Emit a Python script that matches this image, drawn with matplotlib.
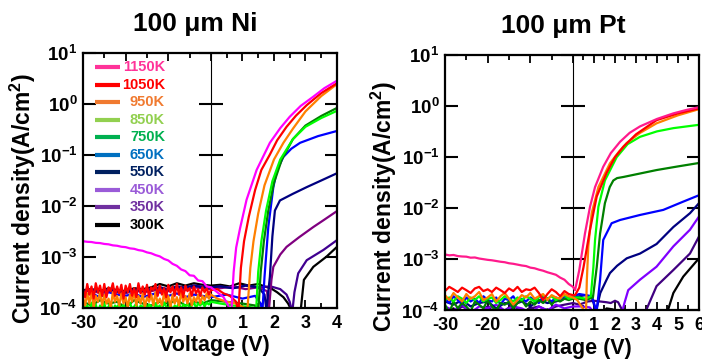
import numpy as np
import matplotlib
matplotlib.use('Agg')
import matplotlib.pyplot as plt
from matplotlib.ticker import FixedLocator, NullLocator

plt.rcParams['font.family'] = 'Liberation Sans'
plt.rcParams['font.weight'] = 'bold'
plt.rcParams['mathtext.fontset'] = 'custom'
plt.rcParams['mathtext.rm'] = 'Liberation Sans:bold'
plt.rcParams['mathtext.it'] = 'Liberation Sans:bold'
plt.rcParams['mathtext.bf'] = 'Liberation Sans:bold'

# ---------------------------------------------------------------------------
# legend / colours
# ---------------------------------------------------------------------------
TEMPS = ['1150K', '1050K', '950K', '850K', '750K', '650K', '550K', '450K', '350K', '300K']
LEG_COLORS = ['#FF3399', '#FF0000', '#F07A30', '#92D050', '#00B050',
              '#0070C0', '#002060', '#9A5BD8', '#7030A0', '#000000']
NI_COLORS = ['#FF00FF', '#FF0000', '#FF8000', '#00FF00', '#008000',
             '#0000FF', '#000080', '#800080', '#400090', '#000000']
PT_COLORS = ['#FF1A8C', '#FF0000', '#FF8000', '#00FF00', '#008000',
             '#0000FF', '#000080', '#8000FF', '#400080', '#000000']

# reverse sweep grids (V)
V_REV_FINE = np.arange(-30, 0.25, 0.5)
V_REV_1 = np.arange(-30, 0.5, 1.0)
V_REV_2 = np.arange(-30, 0.5, 2.0)

Y_TICKS = [1e-4, 1e-3, 1e-2, 1e-1, 1e0, 1e1]
Y_TICKLABELS = [r'$10^{-4}$', r'$10^{-3}$', r'$10^{-2}$', r'$10^{-1}$', r'$10^{0}$', r'$10^{1}$']

# ---------------------------------------------------------------------------
# 100 um Ni  (current density, A/cm^2)
# ---------------------------------------------------------------------------
NI_XTICKS = [-30, -20, -10, 0, 1, 2, 3, 4]
NI_XMINOR = [-25, -15, -5, 0.5, 1.5, 2.5, 3.5]

NI_1150_REV = np.array([2.0, 1.95, 1.93, 1.86, 1.84, 1.77, 1.74, 1.66, 1.63, 1.56, 1.53,
                        1.45, 1.42, 1.34, 1.3, 1.21, 1.16, 1.07, 1.01, 0.9, 0.84,
                        0.72, 0.66, 0.56, 0.52, 0.43, 0.42, 0.34, 0.33, 0.26, 0.25]) * 1e-3
NI_1150_FV = [0.2, 0.4, 0.55, 0.64, 0.72, 0.8, 0.92, 1.13, 1.45, 1.87, 2.2, 2.5, 2.85, 3.24, 3.6, 4.0]
NI_1150_FJ = [2.0e-4, 1.6e-4, 1.1e-4, 7e-5, 5e-4, 1.5e-3, 3.5e-3, 1.3e-2, 5e-2, 0.17,
              0.33, 0.55, 0.9, 1.35, 2.0, 2.8]

NI_1050_REV = np.array([2.3, 1.6, 2.9, 1.8, 2.6, 1.5, 3.0, 2.0, 2.7, 1.7, 2.9, 1.6, 2.5, 2.1, 3.0,
                        1.7, 2.6, 1.9, 2.8, 1.5, 2.7, 2.0, 2.9, 1.7, 2.4, 1.6, 3.0, 1.9, 2.6, 1.8,
                        2.8, 1.6, 2.5, 2.2, 2.9, 1.7, 2.7, 1.8, 2.4, 1.6, 2.8, 2.0, 2.6, 1.7, 2.9,
                        1.8, 2.5, 1.6, 2.7, 2.1, 2.4, 1.7, 2.6, 1.9, 2.3, 1.7, 2.5, 2.0, 2.4, 1.8,
                        2.2]) * 1e-4
NI_1050_FV = [0.2, 0.4, 0.6, 0.8, 0.87, 0.95, 1.05, 1.2, 1.4, 1.6, 1.87, 2.1, 2.4, 2.7, 3.04, 3.5, 4.0]
NI_1050_FJ = [2.3e-4, 1.9e-4, 1.7e-4, 1.3e-4, 8e-5, 6e-4, 2e-3, 6e-3, 2e-2, 5e-2, 0.1,
              0.19, 0.35, 0.58, 0.93, 1.6, 2.5]

NI_950_REV = np.array([1.6, 1.1, 1.9, 1.2, 2.1, 1.0, 1.7, 1.3, 2.0, 1.1, 1.8, 1.2, 1.5, 1.0, 2.0,
                       1.3, 1.7, 1.1, 1.9, 1.2, 1.6, 1.0, 1.8, 1.3, 2.1, 1.1, 1.7, 1.2, 1.9, 1.0,
                       1.6, 1.3, 1.8, 1.1, 2.0, 1.2, 1.5, 1.1, 1.9, 1.3, 1.7, 1.0, 1.8, 1.2, 1.6,
                       1.1, 2.0, 1.3, 1.7, 1.2, 1.9, 1.1, 1.6, 1.3, 1.8, 1.2, 1.7, 1.4, 1.9, 1.5,
                       1.8]) * 1e-4
NI_950_FV = [0.2, 0.5, 0.8, 1.05, 1.15, 1.25, 1.35, 1.5, 1.7, 2.0, 2.3, 2.6, 3.0, 3.5, 4.0]
NI_950_FJ = [1.5e-4, 1.3e-4, 1.2e-4, 1.0e-4, 8e-5, 6e-4, 2e-3, 7e-3, 2.5e-2, 0.08,
             0.17, 0.32, 0.7, 1.4, 2.4]

NI_850_REV = np.array([1.2, 0.95, 1.1, 0.85, 1.25, 1.0, 1.15, 0.8, 1.1, 1.0, 1.2, 0.9, 1.05, 1.25,
                       0.85, 1.1, 1.0, 1.2, 0.9, 1.15, 0.8, 1.1, 1.25, 0.95, 1.05, 1.2, 0.85, 1.1,
                       1.0, 1.25, 0.9, 1.15, 1.05, 0.8, 1.2, 1.0, 1.1, 0.9, 1.25, 1.05, 0.95, 1.2,
                       0.85, 1.1, 1.0, 1.25, 0.9, 1.15, 1.05, 1.2, 0.95, 1.1, 1.25, 1.0, 1.2, 1.1,
                       1.3, 1.05, 1.25, 1.15, 1.3]) * 1e-4
NI_850_FV = [0.3, 0.7, 1.1, 1.35, 1.43, 1.5, 1.6, 1.75, 1.95, 2.2, 2.6, 3.0, 3.5, 4.0]
NI_850_FJ = [1.2e-4, 1.1e-4, 1.05e-4, 1.0e-4, 8e-5, 5e-4, 2e-3, 8e-3, 3e-2, 0.08,
             0.2, 0.35, 0.52, 0.72]

NI_750_REV = np.array([1.3, 1.1, 1.4, 1.2, 1.3, 1.0, 1.4, 1.2, 1.1, 1.3, 1.2, 1.4, 1.1, 1.3, 1.2, 1.4]) * 1e-4
NI_750_FV = [0.5, 1.0, 1.4, 1.5, 1.58, 1.68, 1.82, 2.0, 2.25, 2.6, 3.0, 3.5, 4.0]
NI_750_FJ = [1.3e-4, 1.2e-4, 1.1e-4, 8e-5, 5e-4, 2e-3, 8e-3, 2.8e-2, 0.08, 0.2, 0.37, 0.57, 0.82]

NI_650_REV = np.array([1.7, 1.9, 1.6, 2.0, 1.8, 1.7, 1.9, 1.6, 1.8, 2.0, 1.7, 1.9, 1.6, 1.8, 1.7, 1.6]) * 1e-4
NI_650_FV = [0.5, 1.0, 1.4, 1.58, 1.63, 1.7, 1.82, 1.98, 2.1, 2.3, 2.55, 2.83, 3.4, 4.0]
NI_650_FJ = [1.8e-4, 1.5e-4, 1.7e-4, 1.2e-4, 8e-5, 4e-4, 3.8e-3, 2.3e-2, 5e-2, 9e-2,
             0.13, 0.17, 0.23, 0.29]

NI_550_REV = np.array([2.1, 2.3, 2.0, 2.2, 2.1, 2.0, 2.3, 2.1, 2.2, 2.5, 2.2, 2.6, 2.4, 2.7, 2.5, 2.5]) * 1e-4
NI_550_FV = [0.3, 0.7, 1.1, 1.5, 1.7, 1.76, 1.87, 1.95, 2.03, 2.19, 2.6, 3.04, 3.5, 4.0]
NI_550_FJ = [2.6e-4, 2.4e-4, 2.7e-4, 2.5e-4, 1.8e-4, 9e-5, 4e-4, 2.5e-3, 8e-3, 1.26e-2,
             1.7e-2, 2.3e-2, 3.1e-2, 4.3e-2]

NI_450_REV = np.array([2.0, 2.2, 1.9, 2.1, 2.0, 1.9, 2.2, 2.0, 2.1, 2.3, 2.1, 2.4, 2.2, 2.5, 2.4, 2.3]) * 1e-4
NI_450_FV = [0.3, 0.7, 1.1, 1.5, 1.78, 1.84, 1.92, 1.98, 2.2, 2.4, 2.8, 3.25, 3.6, 4.0]
NI_450_FJ = [2.4e-4, 2.6e-4, 2.3e-4, 2.5e-4, 2.1e-4, 9e-5, 3.5e-4, 6.3e-4, 1.1e-3, 1.55e-3,
             2.4e-3, 3.8e-3, 5.3e-3, 7.8e-3]

NI_350_REV = np.array([2.1, 2.2, 2.0, 2.3, 2.1, 2.0, 2.2, 2.1, 2.3, 2.5, 2.3, 2.6, 2.5, 2.7, 2.6, 2.5]) * 1e-4
NI_350_FV = [0.3, 0.7, 1.1, 1.5, 1.9, 2.2, 2.4, 2.5, 2.58, 2.65, 2.77, 3.04, 3.57, 4.0]
NI_350_FJ = [2.6e-4, 2.4e-4, 2.7e-4, 2.5e-4, 2.6e-4, 2.3e-4, 1.8e-4, 1.3e-4, 8e-5, 2e-4,
             4.7e-4, 8.5e-4, 1.35e-3, 2.1e-3]

NI_300_REV = np.array([2.2, 2.3, 2.1, 2.4, 2.2, 2.1, 2.4, 2.3, 2.5, 2.9, 2.6, 3.0, 2.7, 3.0, 2.8, 2.7]) * 1e-4
NI_300_FV = [0.3, 0.6, 0.9, 1.2, 1.5, 1.7, 1.9, 2.1, 2.3, 2.45, 2.55, 2.85, 2.95, 3.25, 3.67, 4.0]
NI_300_FJ = [2.8e-4, 2.6e-4, 3.0e-4, 2.7e-4, 2.9e-4, 2.6e-4, 2.4e-4, 2.0e-4, 1.6e-4, 1.2e-4,
             9e-5, 9e-5, 3.5e-4, 6.3e-4, 1e-3, 1.55e-3]

# ---------------------------------------------------------------------------
# 100 um Pt
# ---------------------------------------------------------------------------
PT_XTICKS = [-30, -20, -10, 0, 1, 2, 3, 4, 5, 6]
PT_XMINOR = [-25, -15, -5, 0.5, 1.5, 2.5, 3.5, 4.5, 5.5]

PT_1150_REV = np.array([12.5, 12.0, 12.2, 11.6, 11.4, 11.3, 10.8, 10.9, 10.4, 10.1, 9.8, 9.6, 9.3,
                        9.0, 8.8, 8.4, 8.2, 7.9, 7.6, 7.4, 6.9, 6.7, 6.3, 6.0, 5.6, 5.3, 5.0, 4.4,
                        4.0, 3.3, 2.9]) * 1e-4
PT_1150_FV = [0.1, 0.3, 0.57, 0.81, 1.05, 1.44, 1.8, 2.24, 2.7, 3.19, 4.0, 4.78, 5.4, 6.0]
PT_1150_FJ = [2.5e-4, 6.2e-4, 3.2e-3, 1.07e-2, 2.6e-2, 6.5e-2, 0.12, 0.2, 0.3, 0.4,
              0.56, 0.72, 0.84, 0.95]

PT_1050_REV = np.array([2.4, 2.9, 2.6, 2.3, 2.8, 2.5, 2.2, 2.7, 2.9, 2.4, 2.6, 2.3, 2.8, 2.5, 2.2,
                        2.7, 2.4, 2.9, 2.3, 2.6, 2.5, 2.8, 2.2, 1.6, 2.1, 2.6, 2.3, 1.9, 2.4, 2.1,
                        2.0]) * 1e-4
PT_1050_FV = [0.1, 0.3, 0.5, 0.81, 1.13, 1.6, 2.0, 2.4, 3.0, 3.98, 5.0, 6.0]
PT_1050_FJ = [2.0e-4, 2.8e-4, 7e-4, 3.8e-3, 1.7e-2, 4.9e-2, 0.1, 0.16, 0.28, 0.53, 0.72, 0.9]

PT_950_REV = np.array([2.0, 1.6, 2.2, 1.8, 1.5, 2.1, 1.7, 1.9, 2.3, 1.6, 1.8, 2.1, 1.5, 1.9, 2.2,
                       1.7, 1.3, 1.6, 2.0, 1.8, 2.2, 1.7, 1.9, 2.1, 1.6, 2.0, 1.8, 1.7, 2.1, 1.9,
                       1.8]) * 1e-4
PT_950_FV = [0.2, 0.4, 0.62, 0.66, 0.73, 0.89, 1.21, 1.76, 2.2, 2.56, 3.2, 3.98, 5.0, 6.0]
PT_950_FJ = [1.6e-4, 1.2e-4, 9e-5, 4e-4, 1.8e-3, 8e-3, 2.6e-2, 7.6e-2, 0.13, 0.19,
             0.3, 0.46, 0.66, 0.87]

PT_850_REV = np.array([1.6, 1.8, 1.5, 1.9, 1.7, 1.4, 1.8, 1.6, 1.9, 1.5, 1.7, 1.8, 1.4, 1.6, 1.9,
                       1.7, 1.5, 1.8, 1.6, 1.9, 1.7, 1.5, 1.8, 2.0, 1.7, 1.9, 1.6, 1.8, 2.0, 1.7,
                       1.8]) * 1e-4
PT_850_FV = [0.3, 0.6, 0.85, 0.97, 1.05, 1.21, 1.52, 2.08, 2.6, 3.19, 4.0, 4.78, 6.0]
PT_850_FJ = [1.8e-4, 1.7e-4, 1.9e-4, 7e-4, 2.4e-3, 1.07e-2, 3.5e-2, 0.1, 0.18, 0.25,
             0.32, 0.37, 0.43]

PT_750_REV = np.array([1.3, 0.9, 1.5, 1.1, 1.4, 1.2, 0.95, 1.5, 1.3, 1.1, 1.6, 1.2, 1.0, 1.4, 1.3,
                       1.5, 1.1, 1.4, 1.6, 1.2, 1.5, 1.3, 1.6, 1.4, 1.7, 1.3, 1.6, 1.5, 1.7, 1.6,
                       1.7]) * 1e-4
PT_750_FV = [0.3, 0.6, 0.95, 1.13, 1.29, 1.52, 1.75, 1.92, 2.1, 2.4, 3.2, 3.98, 5.0, 6.0]
PT_750_FJ = [1.7e-4, 1.6e-4, 1.8e-4, 7e-4, 3.2e-3, 1.26e-2, 2.6e-2, 3.5e-2, 3.9e-2, 4.1e-2,
             4.8e-2, 5.6e-2, 6.6e-2, 7.7e-2]

PT_650_REV = np.array([1.7, 1.4, 1.9, 1.6, 1.3, 1.8, 1.5, 1.7, 1.4, 1.9, 1.6, 1.5, 1.8, 1.3, 1.7,
                       1.6, 1.9, 1.4, 1.7, 1.5, 1.8, 1.6, 1.4, 1.9, 1.7, 1.5, 1.8, 1.6, 1.9, 1.8,
                       1.9]) * 1e-4
PT_650_FV = [0.3, 0.6, 0.9, 1.05, 1.12, 1.29, 1.44, 1.84, 2.24, 3.19, 4.3, 5.25, 6.0]
PT_650_FJ = [2.1e-4, 2.0e-4, 1.9e-4, 1.2e-4, 9e-5, 4e-4, 2.4e-3, 5.1e-3, 5.9e-3, 7.4e-3,
             9.3e-3, 1.35e-2, 1.8e-2]

PT_550_REV = np.array([1.5, 1.3, 1.6, 1.2, 1.4, 1.5, 1.1, 1.4, 1.3, 1.5, 1.2, 1.6, 1.4, 1.5, 1.7, 1.8]) * 1e-4
PT_550_FV = [0.3, 0.6, 0.9, 1.0, 1.08, 1.3, 1.6, 1.76, 2.1, 2.56, 3.19, 3.98, 4.78, 5.57, 6.0]
PT_550_FJ = [1.9e-4, 2.0e-4, 1.8e-4, 1.3e-4, 9e-5, 2.2e-4, 4e-4, 5.4e-4, 7.5e-4, 1.05e-3,
             1.3e-3, 2e-3, 4.3e-3, 8e-3, 1.26e-2]

PT_450_REV = np.array([1.2, 1.0, 1.3, 0.9, 1.2, 1.1, 1.3, 1.0, 1.2, 1.1, 0.9, 1.2, 1.0, 1.3, 1.1, 1.2]) * 1e-4
PT_450_FV = [0.4, 0.8, 1.0, 1.3, 1.7, 2.1, 2.3, 2.45, 2.63, 3.19, 3.98, 4.78, 5.57, 6.0]
PT_450_FJ = [1.2e-4, 1.15e-4, 9e-5, 7e-5, 7e-5, 7e-5, 8e-5, 1.4e-4, 2.5e-4, 4e-4,
             7.2e-4, 1.8e-3, 3.8e-3, 6.9e-3]

PT_350_REV = np.array([1.1, 0.9, 1.2, 1.0, 0.85, 1.2, 1.1, 1.0, 1.3, 0.9, 1.1, 1.2, 1.0, 1.2, 1.3, 1.4]) * 1e-4
PT_350_FV = [0.3, 0.7, 1.0, 1.3, 1.6, 1.8, 2.0, 2.15, 2.3, 2.45, 3.0, 3.43, 3.98, 4.78, 5.57, 6.0]
PT_350_FJ = [1.3e-4, 1.5e-4, 1.55e-4, 1.5e-4, 1.45e-4, 1.4e-4, 1.55e-4, 1.45e-4, 1.1e-4, 8e-5,
             7e-5, 9e-5, 3e-4, 6.2e-4, 1.3e-3, 2.8e-3]

PT_300_REV = np.array([0.9, 1.1, 0.8, 1.0, 0.9, 1.2, 0.8, 1.0, 1.1, 0.85, 1.15, 0.9, 1.05, 0.8, 1.0, 0.9]) * 1e-4
PT_300_FV = [0.4, 0.8, 1.3, 1.6, 1.9, 2.2, 2.6, 3.2, 4.0, 4.5, 4.78, 5.25, 5.73, 6.0]
PT_300_FJ = [0.9e-4, 1.0e-4, 0.8e-4, 1.1e-4, 1.05e-4, 0.85e-4, 0.8e-4, 0.8e-4, 0.8e-4, 9.5e-5,
             2.2e-4, 4.6e-4, 7.8e-4, 1.05e-3]

NI_SERIES = [
    (V_REV_1, NI_1150_REV, NI_1150_FV, NI_1150_FJ),
    (V_REV_FINE, NI_1050_REV, NI_1050_FV, NI_1050_FJ),
    (V_REV_FINE, NI_950_REV, NI_950_FV, NI_950_FJ),
    (V_REV_FINE, NI_850_REV, NI_850_FV, NI_850_FJ),
    (V_REV_2, NI_750_REV, NI_750_FV, NI_750_FJ),
    (V_REV_2, NI_650_REV, NI_650_FV, NI_650_FJ),
    (V_REV_2, NI_550_REV, NI_550_FV, NI_550_FJ),
    (V_REV_2, NI_450_REV, NI_450_FV, NI_450_FJ),
    (V_REV_2, NI_350_REV, NI_350_FV, NI_350_FJ),
    (V_REV_2, NI_300_REV, NI_300_FV, NI_300_FJ),
]
PT_SERIES = [
    (V_REV_1, PT_1150_REV, PT_1150_FV, PT_1150_FJ),
    (V_REV_1, PT_1050_REV, PT_1050_FV, PT_1050_FJ),
    (V_REV_1, PT_950_REV, PT_950_FV, PT_950_FJ),
    (V_REV_1, PT_850_REV, PT_850_FV, PT_850_FJ),
    (V_REV_1, PT_750_REV, PT_750_FV, PT_750_FJ),
    (V_REV_1, PT_650_REV, PT_650_FV, PT_650_FJ),
    (V_REV_2, PT_550_REV, PT_550_FV, PT_550_FJ),
    (V_REV_2, PT_450_REV, PT_450_FV, PT_450_FJ),
    (V_REV_2, PT_350_REV, PT_350_FV, PT_350_FJ),
    (V_REV_2, PT_300_REV, PT_300_FV, PT_300_FJ),
]

# split x-axis: -30..0 and 0..xmax get (almost) equal widths
NEG_W, POS_W = 128.0, 126.0


def split_scale(xmax):
    def fwd(x):
        x = np.asarray(x, dtype=float)
        return np.where(x < 0, x / 30.0 * NEG_W, x / xmax * POS_W)

    def inv(u):
        u = np.asarray(u, dtype=float)
        return np.where(u < 0, u * 30.0 / NEG_W, u * xmax / POS_W)
    return fwd, inv


def setup_panel(ax, series, colors, xmax, xticks, xminor):
    # low temperatures first so the hot curves sit on top
    for (vr, jr, vf, jf), c in reversed(list(zip(series, colors))):
        v = np.concatenate([vr, vf])
        j = np.concatenate([jr, jf])
        ax.plot(v, j, color=c, lw=1.6)

    ax.set_xscale('function', functions=split_scale(xmax))
    ax.set_yscale('log')
    ax.set_xlim(-30, xmax)
    ax.set_ylim(1e-4, 10)

    ax.yaxis.set_major_locator(FixedLocator(Y_TICKS))
    ax.yaxis.set_minor_locator(NullLocator())
    ax.set_yticklabels(Y_TICKLABELS)
    ax.set_xticks(xticks)
    ax.set_xticklabels([str(t) for t in xticks])
    ax.set_xticks(xminor, minor=True)

    ax.tick_params(axis='y', which='major', direction='in', length=9, width=1.5,
                   right=True, labelsize=13.5, pad=4)
    ax.tick_params(axis='x', which='major', direction='in', length=6, width=1.3,
                   top=True, labelsize=13, pad=5)
    ax.tick_params(axis='x', which='minor', direction='in', length=3.5, width=1.3, top=True)
    for sp in ax.spines.values():
        sp.set_linewidth(1.6)

    # vertical zero line with crossing decade ticks
    sec = ax.secondary_yaxis(NEG_W / (NEG_W + POS_W))
    sec.yaxis.set_major_locator(FixedLocator(Y_TICKS))
    sec.yaxis.set_minor_locator(NullLocator())
    sec.tick_params(axis='y', direction='inout', length=17, width=1.5,
                    labelleft=False, labelright=False)
    sec.spines['left'].set_linewidth(1.6)


fig = plt.figure(figsize=(7.02, 3.61), dpi=100)
ax1 = fig.add_axes([0.1182, 0.1479, 0.3618, 0.7066])
ax2 = fig.add_axes([0.6339, 0.1399, 0.3618, 0.7078])

setup_panel(ax1, NI_SERIES, NI_COLORS, 4, NI_XTICKS, NI_XMINOR)
setup_panel(ax2, PT_SERIES, PT_COLORS, 6, PT_XTICKS, PT_XMINOR)

# legend (left panel), text right aligned like the original
for i, (lab, c) in enumerate(zip(TEMPS, LEG_COLORS)):
    y = 0.943 - i * 0.0686
    ax1.plot([0.047, 0.146], [y, y], transform=ax1.transAxes, color=c, lw=3,
             solid_capstyle='butt')
    ax1.text(0.323, y, lab, transform=ax1.transAxes, color=c, fontsize=10.5,
             fontweight='bold', ha='right', va='center')

fig.text(0.278, 0.934, '100 \u03bcm Ni', fontsize=19, fontweight='bold', ha='center', va='center')
fig.text(0.802, 0.928, '100 \u03bcm Pt', fontsize=19, fontweight='bold', ha='center', va='center')

ylab = 'Current density(A/cm$^2$)'
fig.text(0.032, 0.449, ylab, fontsize=16.5, fontweight='bold', rotation=90, ha='center', va='center')
fig.text(0.547, 0.427, ylab, fontsize=16.5, fontweight='bold', rotation=90, ha='center', va='center')
fig.text(0.305, 0.044, 'Voltage (V)', fontsize=15.5, fontweight='bold', ha='center', va='center')
fig.text(0.8215, 0.036, 'Voltage (V)', fontsize=15.5, fontweight='bold', ha='center', va='center')

fig.savefig('out.png', dpi=100)
